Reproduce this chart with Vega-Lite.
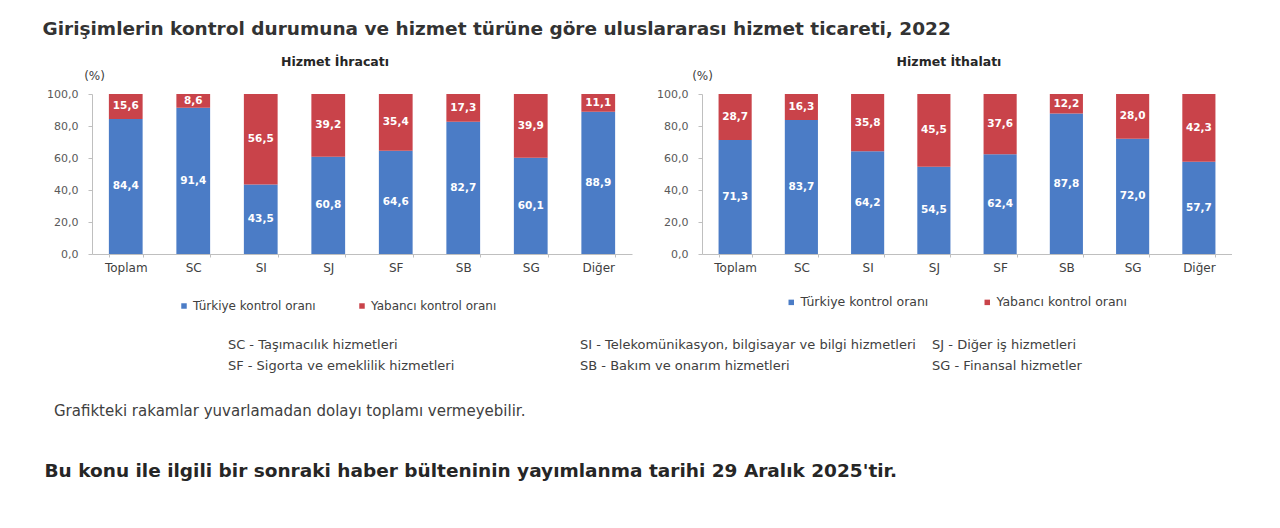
{
  "$schema": "https://vega.github.io/schema/vega-lite/v6.json",
  "padding": {"left": 42, "top": 20, "right": 0, "bottom": 0},
  "background": "white",
  "config": {
    "locale": {"number": {"decimal": ",", "thousands": ".", "grouping": [3], "currency": ["", " TL"]}},
    "font": "DejaVu Sans",
    "view": {"stroke": null},
    "title": {"color": "#262626"}
  },
  "datasets": {
    "ihr": [
      {"cat": "Toplam", "series": "Türkiye kontrol oranı", "value": 84.4},
      {"cat": "Toplam", "series": "Yabancı kontrol oranı", "value": 15.6},
      {"cat": "SC", "series": "Türkiye kontrol oranı", "value": 91.4},
      {"cat": "SC", "series": "Yabancı kontrol oranı", "value": 8.6},
      {"cat": "SI", "series": "Türkiye kontrol oranı", "value": 43.5},
      {"cat": "SI", "series": "Yabancı kontrol oranı", "value": 56.5},
      {"cat": "SJ", "series": "Türkiye kontrol oranı", "value": 60.8},
      {"cat": "SJ", "series": "Yabancı kontrol oranı", "value": 39.2},
      {"cat": "SF", "series": "Türkiye kontrol oranı", "value": 64.6},
      {"cat": "SF", "series": "Yabancı kontrol oranı", "value": 35.4},
      {"cat": "SB", "series": "Türkiye kontrol oranı", "value": 82.7},
      {"cat": "SB", "series": "Yabancı kontrol oranı", "value": 17.3},
      {"cat": "SG", "series": "Türkiye kontrol oranı", "value": 60.1},
      {"cat": "SG", "series": "Yabancı kontrol oranı", "value": 39.9},
      {"cat": "Diğer", "series": "Türkiye kontrol oranı", "value": 88.9},
      {"cat": "Diğer", "series": "Yabancı kontrol oranı", "value": 11.1}
    ],
    "ith": [
      {"cat": "Toplam", "series": "Türkiye kontrol oranı", "value": 71.3},
      {"cat": "Toplam", "series": "Yabancı kontrol oranı", "value": 28.7},
      {"cat": "SC", "series": "Türkiye kontrol oranı", "value": 83.7},
      {"cat": "SC", "series": "Yabancı kontrol oranı", "value": 16.3},
      {"cat": "SI", "series": "Türkiye kontrol oranı", "value": 64.2},
      {"cat": "SI", "series": "Yabancı kontrol oranı", "value": 35.8},
      {"cat": "SJ", "series": "Türkiye kontrol oranı", "value": 54.5},
      {"cat": "SJ", "series": "Yabancı kontrol oranı", "value": 45.5},
      {"cat": "SF", "series": "Türkiye kontrol oranı", "value": 62.4},
      {"cat": "SF", "series": "Yabancı kontrol oranı", "value": 37.6},
      {"cat": "SB", "series": "Türkiye kontrol oranı", "value": 87.8},
      {"cat": "SB", "series": "Yabancı kontrol oranı", "value": 12.2},
      {"cat": "SG", "series": "Türkiye kontrol oranı", "value": 72.0},
      {"cat": "SG", "series": "Yabancı kontrol oranı", "value": 28.0},
      {"cat": "Diğer", "series": "Türkiye kontrol oranı", "value": 57.7},
      {"cat": "Diğer", "series": "Yabancı kontrol oranı", "value": 42.3}
    ],
    "notes": [
      {"text": "SC - Taşımacılık hizmetleri", "col": "1", "row": "1"},
      {"text": "SI - Telekomünikasyon, bilgisayar ve bilgi hizmetleri", "col": "2", "row": "1"},
      {"text": "SJ - Diğer iş hizmetleri", "col": "3", "row": "1"},
      {"text": "SF - Sigorta ve emeklilik hizmetleri", "col": "1", "row": "2"},
      {"text": "SB - Bakım ve onarım hizmetleri", "col": "2", "row": "2"},
      {"text": "SG - Finansal hizmetler", "col": "3", "row": "2"}
    ]
  },
  "title": {
    "text": "Bu konu ile ilgili bir sonraki haber bülteninin yayımlanma tarihi 29 Aralık 2025'tir.",
    "orient": "bottom", "anchor": "start", "frame": "bounds",
    "font": "DejaVu Sans", "fontSize": 18.5, "fontWeight": "bold", "color": "#262626",
    "dx": 2, "offset": 43
  },
  "spacing": 27,
  "vconcat": [
    {
      "title": {
        "text": "Girişimlerin kontrol durumuna ve hizmet türüne göre uluslararası hizmet ticareti, 2022",
        "anchor": "start", "frame": "bounds",
        "font": "DejaVu Sans", "fontSize": 18.5, "fontWeight": "bold", "color": "#333333",
        "dx": -4, "offset": 17
      },
      "spacing": 24,
      "resolve": {"scale": {"color": "independent"}},
      "hconcat": [
        {
          "width": 540, "height": 160,
          "title": {"text": "Hizmet İhracatı", "fontSize": 12.5, "fontWeight": "bold", "color": "#262626", "offset": 1, "dx": -27},
          "data": {"name": "ihr"},
          "encoding": {
            "x": {"field": "cat", "type": "nominal", "sort": null,
              "scale": {"paddingInner": 0.5, "paddingOuter": 0.25},
              "axis": {"title": null, "labelAngle": 0, "labelFontSize": 12, "labelColor": "#404040", "domainColor": "#bfbfbf", "tickColor": "#bfbfbf", "tickBand": "extent", "tickSize": 3, "labelPadding": 5}},
            "y": {"field": "value", "type": "quantitative", "stack": "zero",
              "scale": {"domain": [0, 100]},
              "axis": {"title": "(%)", "titleAngle": 0, "titleX": 2, "titleY": -19, "titleAlign": "center", "titleBaseline": "middle", "titleFontWeight": "normal", "titleFontSize": 12, "titleColor": "#404040",
                "values": [0, 20, 40, 60, 80, 100], "format": ".1f", "labelFontSize": 11, "labelColor": "#595959", "grid": false, "domainColor": "#bfbfbf", "tickColor": "#bfbfbf", "tickSize": 4, "labelPadding": 10}}
          },
          "layer": [
            {"mark": {"type": "bar"},
              "encoding": {
                "order": {"field": "series", "type": "nominal", "sort": "ascending"},
                "color": {"field": "series", "type": "nominal",
                "scale": {"domain": ["Türkiye kontrol oranı", "Yabancı kontrol oranı"], "range": ["#4b7cc6", "#c9434a"]},
                "legend": {"orient": "none", "legendX": 86, "legendY": 206, "direction": "horizontal", "title": null, "symbolType": "square", "symbolSize": 30, "symbolStrokeWidth": 0, "labelFontSize": 12, "labelColor": "#404040", "columnPadding": 40, "labelOffset": 3}}}},
            {"mark": {"type": "text", "color": "white", "fontSize": 10.5, "fontWeight": "bold"},
              "encoding": {
                "y": {"field": "value", "type": "quantitative", "stack": "zero", "bandPosition": 0.5},
                "order": {"field": "series", "type": "nominal", "sort": "ascending"},
                "detail": {"field": "series", "type": "nominal"},
                "text": {"field": "value", "type": "quantitative", "format": ".1f"}}}
          ]
        },
        {
          "width": 530, "height": 160,
          "title": {"text": "Hizmet İthalatı", "fontSize": 12.5, "fontWeight": "bold", "color": "#262626", "offset": 1, "dx": -18},
          "data": {"name": "ith"},
          "encoding": {
            "x": {"field": "cat", "type": "nominal", "sort": null,
              "scale": {"paddingInner": 0.5, "paddingOuter": 0.25},
              "axis": {"title": null, "labelAngle": 0, "labelFontSize": 12, "labelColor": "#404040", "domainColor": "#bfbfbf", "tickColor": "#bfbfbf", "tickBand": "extent", "tickSize": 3, "labelPadding": 5}},
            "y": {"field": "value", "type": "quantitative", "stack": "zero",
              "scale": {"domain": [0, 100]},
              "axis": {"title": "(%)", "titleAngle": 0, "titleX": 0, "titleY": -19, "titleAlign": "center", "titleBaseline": "middle", "titleFontWeight": "normal", "titleFontSize": 12, "titleColor": "#404040",
                "values": [0, 20, 40, 60, 80, 100], "format": ".1f", "labelFontSize": 11, "labelColor": "#595959", "grid": false, "domainColor": "#bfbfbf", "tickColor": "#bfbfbf", "tickSize": 4, "labelPadding": 10}}
          },
          "layer": [
            {"mark": {"type": "bar"},
              "encoding": {
                "order": {"field": "series", "type": "nominal", "sort": "ascending"},
                "color": {"field": "series", "type": "nominal",
                "scale": {"domain": ["Türkiye kontrol oranı", "Yabancı kontrol oranı"], "range": ["#4b7cc6", "#c9434a"]},
                "legend": {"orient": "none", "legendX": 83, "legendY": 202, "direction": "horizontal", "title": null, "symbolType": "square", "symbolSize": 30, "symbolStrokeWidth": 0, "labelFontSize": 12.5, "labelColor": "#404040", "columnPadding": 52, "labelOffset": 3}}}},
            {"mark": {"type": "text", "color": "white", "fontSize": 10.5, "fontWeight": "bold"},
              "encoding": {
                "y": {"field": "value", "type": "quantitative", "stack": "zero", "bandPosition": 0.5},
                "order": {"field": "series", "type": "nominal", "sort": "ascending"},
                "detail": {"field": "series", "type": "nominal"},
                "text": {"field": "value", "type": "quantitative", "format": ".1f"}}}
          ]
        }
      ]
    },
    {
      "width": 976, "height": 21,
      "title": {"text": "Grafikteki rakamlar yuvarlamadan dolayı toplamı vermeyebilir.", "orient": "bottom", "anchor": "start", "frame": "bounds", "dx": -38, "offset": 31, "fontSize": 15, "fontWeight": "normal", "color": "#404040"},
      "data": {"name": "notes"},
      "mark": {"type": "text", "align": "left", "baseline": "middle", "fontSize": 13, "color": "#404040"},
      "encoding": {
        "x": {"field": "col", "type": "ordinal", "scale": {"type": "point", "padding": 0.386}, "axis": null},
        "y": {"field": "row", "type": "ordinal", "scale": {"type": "point", "padding": 0}, "axis": null},
        "text": {"field": "text"}
      }
    }
  ]
}
